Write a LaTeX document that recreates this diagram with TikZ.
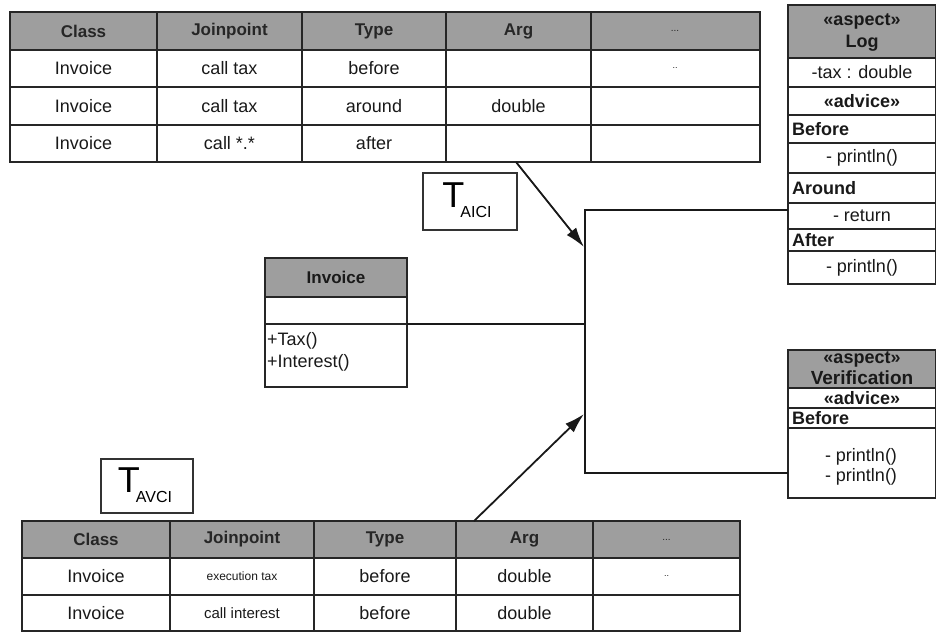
\documentclass[tikz,border=0pt]{standalone}
\usepackage{fontspec}
\setmainfont{Liberation Sans}
\usetikzlibrary{arrows.meta,calc}
\begin{document}
\begin{tikzpicture}[x=1pt,y=-1pt,
  grid/.style={line width=1.8pt, draw=black!85},
  hdr/.style={fill=black!38},
  frame/.style={draw=black!85, line width=1.8pt, inner sep=0pt, outer sep=0pt, anchor=north west},
  txt/.style={font=\fontsize{18}{18}\selectfont, inner sep=0pt, text=black!90},
  htxt/.style={font=\fontsize{17}{17}\selectfont\bfseries, inner sep=0pt, text=black!85},
  stxt/.style={font=\fontsize{18}{18}\selectfont, inner sep=0pt, text=black!90},
  sbtxt/.style={font=\fontsize{18}{18}\selectfont\bfseries, inner sep=0pt, text=black!90},
  conn/.style={line width=1.8pt, draw=black!90},
  arr/.style={conn, -{Latex[length=20pt,width=12pt]}},
  tlabel/.style={frame, draw=black!80, line width=1.4pt},
  tname/.style={inner sep=0pt, font=\fontsize{36}{36}\selectfont}
]
\useasboundingbox (0,0) rectangle (936,633);

% ---------- top table ----------
\fill[hdr] (10,12) rectangle (760,50);
\foreach \x in {157,302,446,591} \draw[grid] (\x,12) -- (\x,162);
\foreach \y in {50,87,125} \draw[grid] (10,\y) -- (760,\y);
\node[frame, minimum width=750pt, minimum height=150pt] (ttop) at (10,12) {};
\foreach \t/\cx [count=\i] in {Class/83.5,Joinpoint/229.5,Type/374,Arg/518.5}
  \node[htxt] (th\i) at (\cx,31) {\t};
\node[htxt,font=\fontsize{10}{10}\selectfont] (th5) at (675,31) {...};
\node[txt,font=\fontsize{9}{9}\selectfont] (t15) at (675,68.5) {..};
\node[txt] (t11) at (83.5,68.5) {Invoice};
\node[txt] (t12) at (229.5,68.5) {call tax};
\node[txt] (t13) at (374,68.5) {before};
\node[txt] (t21) at (83.5,106) {Invoice};
\node[txt] (t22) at (229.5,106) {call tax};
\node[txt] (t23) at (374,106) {around};
\node[txt] (t24) at (518.5,106) {double};
\node[txt] (t31) at (83.5,143.5) {Invoice};
\node[txt] (t32) at (229.5,143.5) {call *.*};
\node[txt] (t33) at (374,143.5) {after};

% ---------- bottom table ----------
\fill[hdr] (22,521) rectangle (740,558);
\foreach \x in {170,314,456,593} \draw[grid] (\x,521) -- (\x,631);
\foreach \y in {558,595} \draw[grid] (22,\y) -- (740,\y);
\node[frame, minimum width=718pt, minimum height=110pt] (tbot) at (22,521) {};
\foreach \t/\cx [count=\i] in {Class/96,Joinpoint/242,Type/385,Arg/524.5}
  \node[htxt] (bh\i) at (\cx,539.5) {\t};
\node[htxt,font=\fontsize{10}{10}\selectfont] (bh5) at (666.5,539.5) {...};
\node[txt] (b11) at (96,576.5) {Invoice};
\node[txt,font=\fontsize{12}{12}\selectfont] (b12) at (242,576.5) {execution tax};
\node[txt] (b13) at (385,576.5) {before};
\node[txt] (b14) at (524.5,576.5) {double};
\node[txt,font=\fontsize{9}{9}\selectfont] (b15) at (666.5,576.5) {..};
\node[txt] (b21) at (96,613) {Invoice};
\node[txt,font=\fontsize{15}{15}\selectfont] (b22) at (242,613) {call interest};
\node[txt] (b23) at (385,613) {before};
\node[txt] (b24) at (524.5,613) {double};

% ---------- T labels ----------
\node[tlabel, minimum width=94pt, minimum height=57pt] (tai) at (423,173) {};
\node[tname] (taitxt) at ([xshift=-3pt,yshift=1pt]tai.center) {T\kern-4pt\raisebox{-10pt}{\fontsize{16}{16}\selectfont AICI}};
\node[tlabel, minimum width=92pt, minimum height=54pt] (tav) at (101,459) {};
\node[tname] (tavtxt) at ([xshift=-2pt,yshift=1pt]tav.center) {T\kern-4pt\raisebox{-10pt}{\fontsize{16}{16}\selectfont AVCI}};

% ---------- Invoice class ----------
\fill[hdr] (265,258) rectangle (407,297);
\draw[grid] (265,297) -- (407,297);
\draw[grid] (265,324) -- (407,324);
\node[frame, minimum width=142pt, minimum height=129pt] (inv) at (265,258) {};
\node[sbtxt,font=\fontsize{17}{17}\selectfont\bfseries] (invh) at (336,277.5) {Invoice};
\node[stxt, anchor=west] (invm1) at (267,341) {+Tax()};
\node[stxt, anchor=west] (invm2) at (267,363) {+Interest()};

% ---------- Log aspect ----------
\fill[hdr] (788,5) rectangle (936,58);
\foreach \y in {58,87,115,143,173,203,229,251} \draw[grid] (788,\y) -- (936,\y);
\node[frame, minimum width=148pt, minimum height=279pt] (log) at (788,5) {};
\node[sbtxt] (logs) at (862,21) {«aspect»};
\node[sbtxt] (logn) at (862,43) {Log};
\node[stxt] (log1) at (862,72.5) {-tax : double};
\node[sbtxt] (log2) at (862,101) {«advice»};
\node[sbtxt, anchor=west] (log3) at (792,129) {Before};
\node[stxt] (log4) at (862,158) {- println()};
\node[sbtxt, anchor=west] (log5) at (792,188) {Around};
\node[stxt] (log6) at (862,216) {- return};
\node[sbtxt, anchor=west] (log7) at (792,240) {After};
\node[stxt] (log8) at (862,267.5) {- println()};

% ---------- Verification aspect ----------
\fill[hdr] (788,350) rectangle (936,388);
\foreach \y in {388,408,428} \draw[grid] (788,\y) -- (936,\y);
\node[frame, minimum width=148pt, minimum height=148pt] (ver) at (788,350) {};
\node[sbtxt] (vers) at (862,359) {«aspect»};
\node[sbtxt,font=\fontsize{19}{19}\selectfont\bfseries] (vern) at (862,378) {Verification};
\node[sbtxt] (ver1) at (862,398) {«advice»};
\node[sbtxt, anchor=west] (ver2) at (792,418) {Before};
\node[stxt] (ver3) at (861,457) {- println()};
\node[stxt] (ver4) at (861,477) {- println()};

% ---------- connectors ----------
\coordinate (brt) at (585,210);
\coordinate (brb) at (585,473);
\draw[conn] (log.west |- brt) -- (brt) -- (brb) -- (ver.west |- brb);
\draw[conn] (inv.east |- 0,324) -- (brt |- 0,324);
\coordinate (a1s) at ($(ttop.south west)+(506,0)$);
\coordinate (a1e) at (584,247);
\draw[arr] (a1s) -- (a1e);
\coordinate (a2s) at ($(tbot.north west)+(452,0)$);
\coordinate (a2e) at (584,414);
\draw[arr] (a2s) -- (a2e);
\end{tikzpicture}
\end{document}
